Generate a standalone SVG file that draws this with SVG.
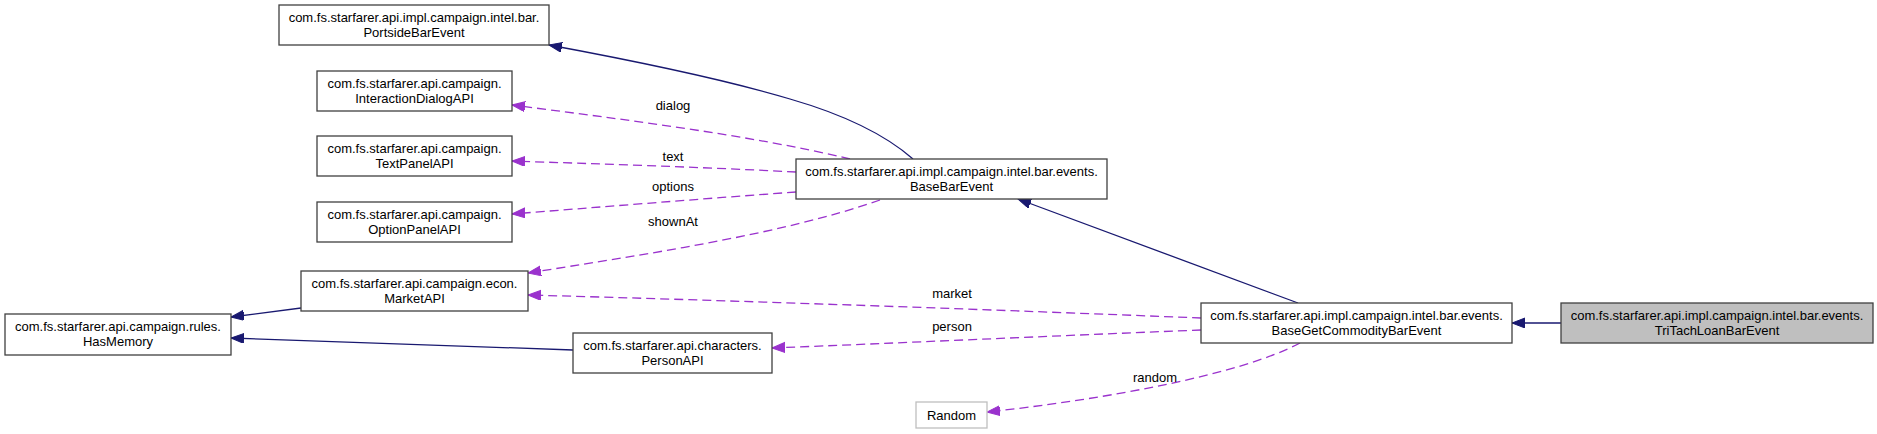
<svg xmlns="http://www.w3.org/2000/svg" width="1877" height="434" viewBox="0 0 1877 434">
<style>
.box{fill:#ffffff;stroke:#404040;stroke-width:1.3}
.cur{fill:#bfbfbf;stroke:#404040;stroke-width:1.3}
.ext{fill:#ffffff;stroke:#bfbfbf;stroke-width:1.3}
text{font-family:"Liberation Sans",Arial,sans-serif;font-size:13px;fill:#000;text-anchor:middle}
.inh{fill:none;stroke:#191970;stroke-width:1.3}
.use{fill:none;stroke:#9a32cd;stroke-width:1.3;stroke-dasharray:9,5}
</style>
<defs>
<marker id="an" markerUnits="userSpaceOnUse" markerWidth="16" markerHeight="12" refX="13" refY="5" orient="auto">
<path d="M0,0 L13,5 L0,10 z" fill="#191970" stroke="#191970"/>
</marker>
<marker id="ap" markerUnits="userSpaceOnUse" markerWidth="16" markerHeight="12" refX="13" refY="5" orient="auto">
<path d="M0,0 L13,5 L0,10 z" fill="#9a32cd" stroke="#9a32cd"/>
</marker>
</defs>
<rect width="1877" height="434" fill="#ffffff"/>
<g id="connectors">
<path class="inh" d="M1561,323 L1512,323" marker-end="url(#an)"/>
<path class="inh" d="M1298,303 L1018,199" marker-end="url(#an)"/>
<path class="inh" d="M913,159 C880,130 835,112 790,99 C720,78 630,60 549,45" marker-end="url(#an)"/>
<path class="inh" d="M301,308 L231,317" marker-end="url(#an)"/>
<path class="inh" d="M573,350 L231,338" marker-end="url(#an)"/>
<path class="use" d="M850,159 C750,135 620,119 512,105" marker-end="url(#ap)"/>
<path class="use" d="M796,172 C700,167 600,164 512,161" marker-end="url(#ap)"/>
<path class="use" d="M796,192 C700,199 600,207 512,214" marker-end="url(#ap)"/>
<path class="use" d="M880,200 C780,235 640,255 528,273" marker-end="url(#ap)"/>
<path class="use" d="M1201,318 C1000,310 750,301 528,295" marker-end="url(#ap)"/>
<path class="use" d="M1201,330 C1050,336 900,343 772,348" marker-end="url(#ap)"/>
<path class="use" d="M1300,343 C1240,375 1100,400 987,412" marker-end="url(#ap)"/>
<text x="673" y="110">dialog</text>
<text x="673" y="161">text</text>
<text x="673" y="191">options</text>
<text x="673" y="226">shownAt</text>
<text x="952" y="298">market</text>
<text x="952" y="331">person</text>
<text x="1155" y="382">random</text>
</g>
<g id="node_tritach">
<rect class="cur" x="1561" y="303" width="312" height="40"/>
<text x="1717" y="319.5">com.fs.starfarer.api.impl.campaign.intel.bar.events.</text>
<text x="1717" y="334.5">TriTachLoanBarEvent</text>
</g>
<g id="node_basegetcommodity">
<rect class="box" x="1201" y="303" width="311" height="40"/>
<text x="1356.5" y="319.5">com.fs.starfarer.api.impl.campaign.intel.bar.events.</text>
<text x="1356.5" y="334.5">BaseGetCommodityBarEvent</text>
</g>
<g id="node_basebarevent">
<rect class="box" x="796" y="159" width="311" height="40"/>
<text x="951.5" y="175.5">com.fs.starfarer.api.impl.campaign.intel.bar.events.</text>
<text x="951.5" y="190.5">BaseBarEvent</text>
</g>
<g id="node_portside">
<rect class="box" x="279" y="5" width="270" height="40"/>
<text x="414" y="21.5">com.fs.starfarer.api.impl.campaign.intel.bar.</text>
<text x="414" y="36.5">PortsideBarEvent</text>
</g>
<g id="node_interaction">
<rect class="box" x="317" y="71" width="195" height="40"/>
<text x="414.5" y="87.5">com.fs.starfarer.api.campaign.</text>
<text x="414.5" y="102.5">InteractionDialogAPI</text>
</g>
<g id="node_textpanel">
<rect class="box" x="317" y="136" width="195" height="40"/>
<text x="414.5" y="152.5">com.fs.starfarer.api.campaign.</text>
<text x="414.5" y="167.5">TextPanelAPI</text>
</g>
<g id="node_optionpanel">
<rect class="box" x="317" y="202" width="195" height="40"/>
<text x="414.5" y="218.5">com.fs.starfarer.api.campaign.</text>
<text x="414.5" y="233.5">OptionPanelAPI</text>
</g>
<g id="node_market">
<rect class="box" x="301" y="271" width="227" height="40"/>
<text x="414.5" y="287.5">com.fs.starfarer.api.campaign.econ.</text>
<text x="414.5" y="302.5">MarketAPI</text>
</g>
<g id="node_hasmemory">
<rect class="box" x="5" y="314" width="226" height="41"/>
<text x="118" y="330.5">com.fs.starfarer.api.campaign.rules.</text>
<text x="118" y="345.5">HasMemory</text>
</g>
<g id="node_person">
<rect class="box" x="573" y="333" width="199" height="40"/>
<text x="672.5" y="349.5">com.fs.starfarer.api.characters.</text>
<text x="672.5" y="364.5">PersonAPI</text>
</g>
<g id="node_random">
<rect class="ext" x="916" y="402" width="71" height="26"/>
<text x="951.5" y="419.5">Random</text>
</g>
</svg>
